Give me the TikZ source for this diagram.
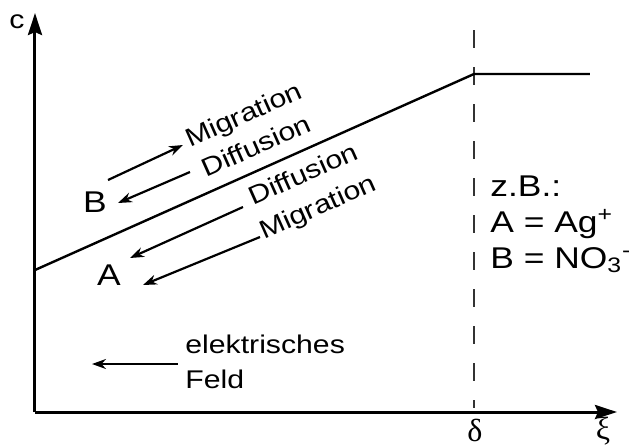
\documentclass[tikz,border=0pt]{standalone}
\usepackage{fontspec}
\setmainfont{Liberation Sans}[FakeStretch=1.18]
\newfontfamily\grk{Liberation Serif}
\usetikzlibrary{arrows.meta, positioning}

\begin{document}
\begin{tikzpicture}[x=0.5pt, y=-0.5pt,
  axis/.style={line width=1.5pt, -{Stealth[length=11pt, width=7pt, inset=1.5pt]}},
  arr/.style={line width=1.1pt, -{Stealth[length=7pt, width=5pt]}},
  lbl/.style={inner sep=0pt, font=\fontsize{12.8}{17.5}\selectfont},
  big/.style={inner sep=0pt, font=\fontsize{15}{18}\selectfont},
  greek/.style={inner sep=0pt, font=\fontsize{16}{19}\grk},
  flow/.style={lbl, rotate=24, anchor=base west}
]
\useasboundingbox (0,0) rectangle (629,447);

% axes
\coordinate (O) at (35,412);
\coordinate (ytop) at (35,13);
\coordinate (xtip) at (617,412);
\draw[axis] (O) -- (ytop);
\draw[axis] (O) -- (xtip);
\node[lbl] (c) at (17,22) {c};
\node[greek] (delta) at (475,430) {δ};
\node[greek] (xi) at (603,431) {ξ};

% boundary layer
\coordinate (dtop) at (474,30);
\coordinate (dbot) at (474,408);
\draw[dash pattern=on 9pt off 9.5pt, line width=1.1pt, black!80] (dtop) -- (dbot);

% concentration profile
\coordinate (p0) at (35,270);
\coordinate (pk) at (474,74);
\coordinate (p1) at (590,74);
\draw[line width=1.2pt] (p0) -- (pk) -- (p1);

% ions
\node[big] (B) at (95,202) {B};
\node[big] (A) at (109,275) {A};

% fluxes
\node[flow] (migB) at (190,148) {Migration};
\node[flow] (difB) at (206,178) {Diffusion};
\node[flow] (difA) at (253,206) {Diffusion};
\node[flow] (migA) at (264,240) {Migration};

\coordinate (mB0) at (108,180);
\coordinate (mB1) at (183,145);
\coordinate (dB0) at (190,172);
\coordinate (dB1) at (118,203);
\coordinate (dA0) at (243,207);
\coordinate (dA1) at (130,258);
\coordinate (mA0) at (260,237);
\coordinate (mA1) at (143,285);
\draw[arr] (mB0) -- (mB1);
\draw[arr] (dB0) -- (dB1);
\draw[arr] (dA0) -- (dA1);
\draw[arr] (mA0) -- (mA1);

% field
\node[lbl, align=left, anchor=north west] (feld) at (185,335) {elektrisches\\Feld};
\coordinate (fTail) at (178,364);
\coordinate (fTip) at (92,364);
\draw[arr] (fTail) -- (fTip);

% example
\node[big, align=left, anchor=north west] (bsp) at (490,175) {z.B.:\\A = Ag\textsuperscript{+}\\B = NO\textsubscript{3}\textsuperscript{-}};
\end{tikzpicture}
\end{document}
